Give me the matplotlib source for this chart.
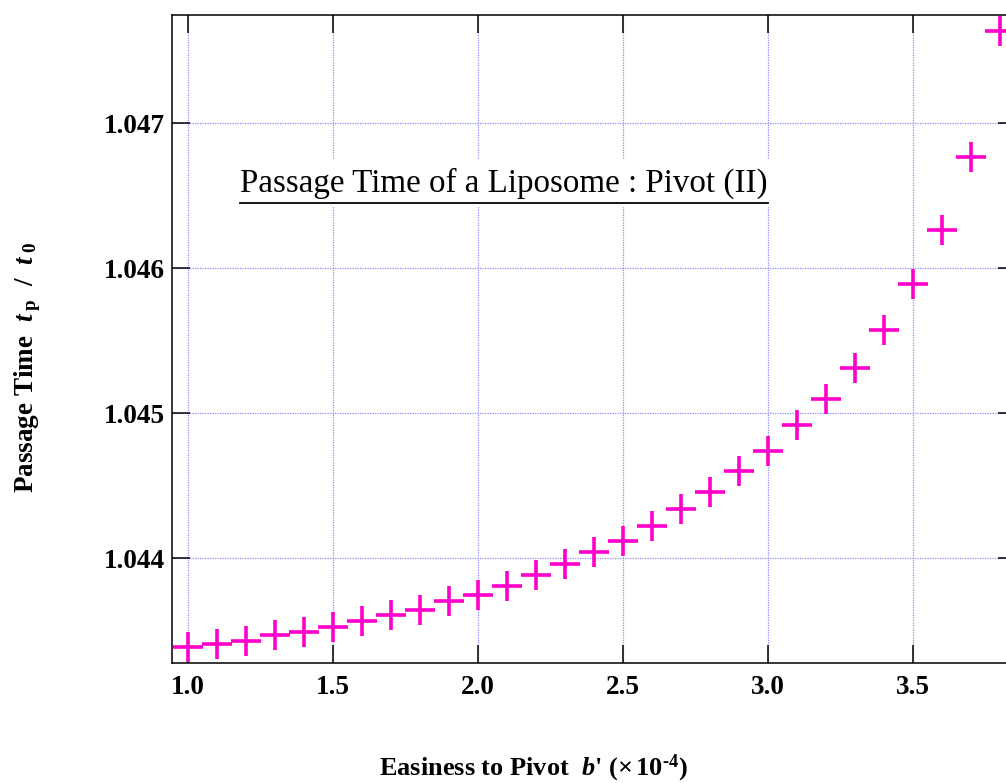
import matplotlib
matplotlib.use("Agg")
import matplotlib.pyplot as plt
from matplotlib.lines import Line2D

plt.rcParams["font.family"] = ["Liberation Serif", "DejaVu Serif"]
plt.rcParams["mathtext.fontset"] = "custom"
plt.rcParams["mathtext.rm"] = "Liberation Serif:bold"
plt.rcParams["mathtext.it"] = "Liberation Serif:italic:bold"
plt.rcParams["mathtext.bf"] = "Liberation Serif:bold"

# easiness to pivot b' (x 1e-4) and normalised passage time t_p / t_0
b_prime = [1.0, 1.1, 1.2, 1.3, 1.4, 1.5, 1.6, 1.7, 1.8, 1.9,
           2.0, 2.1, 2.2, 2.3, 2.4, 2.5, 2.6, 2.7, 2.8, 2.9,
           3.0, 3.1, 3.2, 3.3, 3.4, 3.5, 3.6, 3.7, 3.8]
passage = [1.043384, 1.043405, 1.043428, 1.043467, 1.043488, 1.043524,
           1.043566, 1.043607, 1.043643, 1.043703, 1.043745, 1.043805,
           1.043881, 1.043961, 1.044041, 1.044119, 1.044219, 1.044338,
           1.044457, 1.044600, 1.044736, 1.044915, 1.045094, 1.045310,
           1.045570, 1.045887, 1.046264, 1.046763, 1.047632]

x_ticks = [1.0, 1.5, 2.0, 2.5, 3.0, 3.5]
y_ticks = [1.044, 1.045, 1.046, 1.047]

W, H = 1006, 783
fig = plt.figure(figsize=(W / 100, H / 100), dpi=100)
# plot box runs a little past the right edge of the canvas
left, right, top, bottom = 172, 1016, 15, 663
ax = fig.add_axes([left / W, 1 - bottom / H, (right - left) / W, (bottom - top) / H])

ax.plot(b_prime, passage, linestyle="none", marker="+", markersize=22,
        markeredgewidth=2.6, color="#ff00cc", zorder=3)

ax.set_xlim(0.945, 3.855)
ax.set_ylim(1.043276, 1.047745)
ax.set_xticks(x_ticks)
ax.set_xticklabels(["%.1f" % t for t in x_ticks])
ax.set_yticks(y_ticks)
ax.set_yticklabels(["%.3f" % t for t in y_ticks])

ax.grid(True, color="#8c8cff", linestyle=(0, (1, 1)), linewidth=0.9)
ax.tick_params(direction="in", length=13, width=1.1, top=True, right=True,
               labelsize=19.5, pad=9)
ax.tick_params(axis="y", pad=5)
for lab in ax.get_xticklabels() + ax.get_yticklabels():
    lab.set_fontweight("bold")
for sp in ax.spines.values():
    sp.set_linewidth(1.1)

# axis labels
fig.text(533 / W, 1 - 768 / H,
         "Easiness to Pivot  $b$' ($\\times\\,$10$^{\u2010\\mathbf{4}}$)",
         ha="center", va="center", fontsize=19, fontweight="bold")
fig.text(28 / W, 1 - 367 / H,
         r"Passage Time  $t_{\;\mathbf{p}}$  /  $t_{\;\mathbf{0}}$",
         ha="center", va="center", rotation=90, fontsize=19.5, fontweight="bold")

# caption inside the plot, underlined, on a white patch over the grid
cap = fig.text(240 / W, 1 - 183 / H, "Passage Time of a Liposome : Pivot (II)",
               ha="left", va="center", fontsize=23.8, zorder=5,
               bbox=dict(facecolor="white", edgecolor="none", pad=6))
fig.add_artist(Line2D([240 / W, 768 / W], [1 - 203 / H, 1 - 203 / H],
                      color="black", linewidth=1.3, zorder=6))

fig.savefig("out.png", dpi=100)
